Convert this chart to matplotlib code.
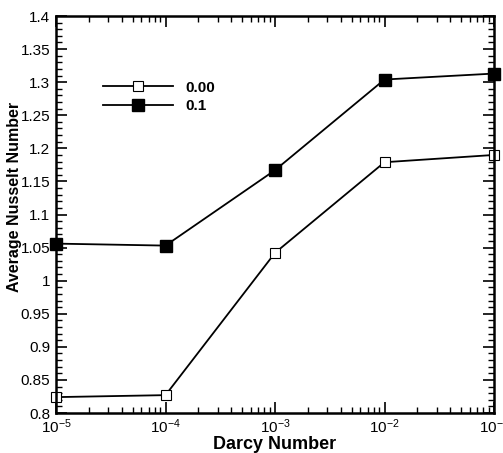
import matplotlib
matplotlib.use("Agg")
import matplotlib.pyplot as plt
from matplotlib.ticker import LogLocator, MultipleLocator, FixedLocator

plt.rcParams['font.family'] = ['Liberation Sans', 'DejaVu Sans']
plt.rcParams['mathtext.fontset'] = 'custom'
plt.rcParams['mathtext.rm'] = 'Liberation Sans'
plt.rcParams['mathtext.it'] = 'Liberation Sans'

darcy = [1e-5, 1e-4, 1e-3, 1e-2, 1e-1]
nu_000 = [0.824, 0.827, 1.042, 1.179, 1.190]
nu_01 = [1.056, 1.053, 1.167, 1.304, 1.313]
series_labels = ["0.00", "0.1"]
xtick_labels = [r"$10^{-5}$", r"$10^{-4}$", r"$10^{-3}$", r"$10^{-2}$", r"$10^{-1}$"]
ytick_values = [0.8, 0.85, 0.9, 0.95, 1.0, 1.05, 1.1, 1.15, 1.2, 1.25, 1.3, 1.35, 1.4]
ytick_labels = ["0.8", "0.85", "0.9", "0.95", "1", "1.05", "1.1", "1.15", "1.2",
                "1.25", "1.3", "1.35", "1.4"]

fig = plt.figure(figsize=(5.03, 4.53), dpi=100)
ax = fig.add_axes([56/503, 1-413/453, (494-56)/503, (413-16)/453])

ax.plot(darcy, nu_000, color='black', lw=1.3, marker='s', ms=7, mfc='white',
        mec='black', mew=0.8, label=series_labels[0], clip_on=False)
ax.plot(darcy, nu_01, color='black', lw=1.3, marker='s', ms=8.5, mfc='black',
        mec='black', label=series_labels[1], clip_on=False)

ax.set_xscale('log')
ax.set_xlim(1e-5, 1e-1)
ax.set_ylim(0.8, 1.4)
ax.xaxis.set_major_locator(FixedLocator(darcy))
ax.set_xticklabels(xtick_labels)
ax.xaxis.set_minor_locator(LogLocator(base=10, subs=range(2, 10)))
ax.set_yticks(ytick_values)
ax.set_yticklabels(ytick_labels)
ax.yaxis.set_minor_locator(MultipleLocator(0.01))

ax.tick_params(which='both', direction='in', top=True, right=True, labelsize=11, width=1.2)
ax.tick_params(which='major', length=8, pad=4)
ax.tick_params(which='minor', length=4.5, width=1)
ax.tick_params(axis='x', pad=3)
for s in ax.spines.values():
    s.set_linewidth(1.8)

ax.set_xlabel("Darcy Number", fontsize=13, fontweight='bold', labelpad=0)
ax.set_ylabel("Average Nusselt Number", fontsize=11.5, fontweight='bold')
ax.yaxis.set_label_coords(-0.078, 0.545)

leg = ax.legend(loc='upper left', bbox_to_anchor=(0.075, 0.872), frameon=False,
                handlelength=4.6, handletextpad=0.8, labelspacing=0.3,
                prop={'weight': 'bold', 'size': 11})

fig.savefig("out.png", dpi=100)
